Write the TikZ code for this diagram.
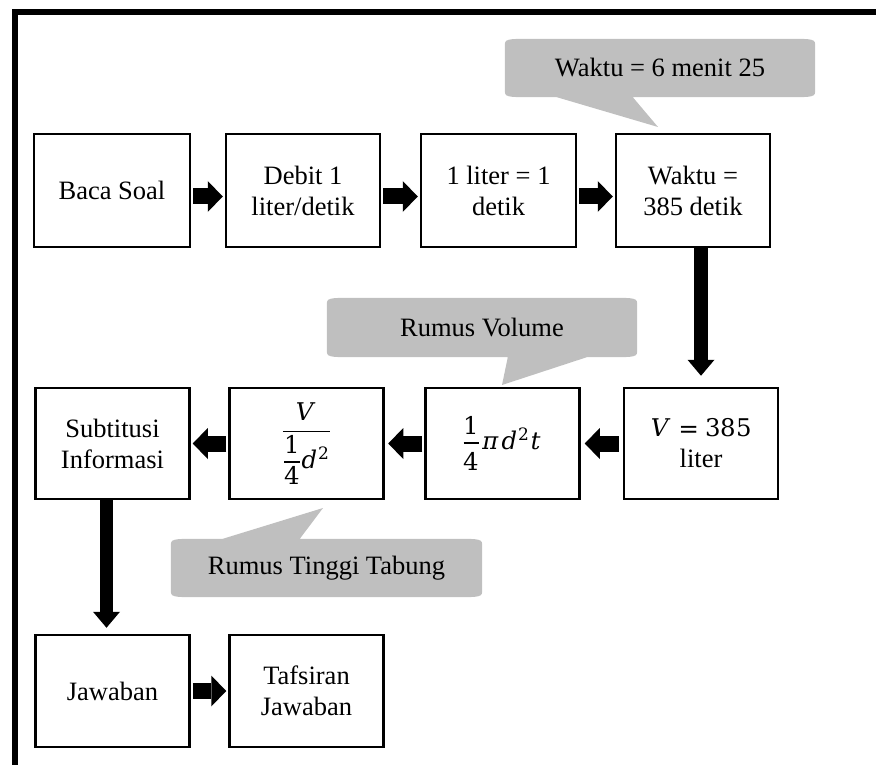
\documentclass[tikz,border=0pt]{standalone}
\usepackage{amsmath}
\usepackage{fontspec}
\usepackage{unicode-math}
\setmainfont{Liberation Serif}
\setmathfont{DejaVu Math TeX Gyre}[Scale=0.92]
\usetikzlibrary{arrows.meta,calc}

\definecolor{callgray}{RGB}{191,191,191}
\pgfdeclarelayer{background}
\pgfsetlayers{background,main}

% full-size fraction with extra room above and below the bar
\newcommand\roomyfrac[2]{\frac{\displaystyle #1\rule[-5pt]{0pt}{5pt}}%
  {\displaystyle\rule{0pt}{24pt}#2}}

\tikzset{
  stepbox/.style={draw, line width=2.5pt, inner sep=0pt,
    minimum width=154pt, minimum height=112pt, align=center,
    font=\fontsize{26.5}{31}\selectfont},
  calltext/.style={inner sep=0pt, minimum width=310pt, minimum height=58pt,
    font=\fontsize{26.5}{31}\selectfont},
  fatright/.style={line width=16pt, shorten <=2pt, shorten >=2pt,
    -{Triangle[length=15pt,width=31pt,line width=0pt]}},
  fatdown/.style={line width=13.5pt,
    -{Triangle[length=16pt,width=27pt,line width=0pt]}},
  frame/.style={line width=6pt, line join=miter},
}

% speech bubble behind node #1, tail on the bottom edge:
% base from #2 to #3 (offsets from the left side), tip at #4
\newcommand\bubblebelow[4]{%
  \fill[callgray] ($(#1.north west)+(30,0)$) -- ($(#1.north east)+(-30,0)$)
    .. controls (#1.north east) .. ($(#1.north east)+(0,8)$)
    -- ($(#1.south east)+(0,-8)$)
    .. controls (#1.south east) .. ($(#1.south east)+(-30,0)$)
    -- ($(#1.south west)+(#3,0)$) -- (#4) -- ($(#1.south west)+(#2,0)$)
    -- ($(#1.south west)+(30,0)$)
    .. controls (#1.south west) .. ($(#1.south west)+(0,-8)$)
    -- ($(#1.north west)+(0,8)$)
    .. controls (#1.north west) .. cycle;}
% the same bubble with its tail on the top edge
\newcommand\bubbleabove[4]{%
  \fill[callgray] ($(#1.north west)+(30,0)$)
    -- ($(#1.north west)+(#2,0)$) -- (#4) -- ($(#1.north west)+(#3,0)$)
    -- ($(#1.north east)+(-30,0)$)
    .. controls (#1.north east) .. ($(#1.north east)+(0,8)$)
    -- ($(#1.south east)+(0,-8)$)
    .. controls (#1.south east) .. ($(#1.south east)+(-30,0)$)
    -- ($(#1.south west)+(30,0)$)
    .. controls (#1.south west) .. ($(#1.south west)+(0,-8)$)
    -- ($(#1.north west)+(0,8)$)
    .. controls (#1.north west) .. cycle;}

\begin{document}
\begin{tikzpicture}[x=1pt,y=-1pt]
\useasboundingbox (0,0) rectangle (876,765);

% outer frame (left and top edges only)
\draw[frame] (15.3,768) -- (15.3,12.5) -- (880,12.5);

% first row
\node[stepbox, minimum width=156pt, minimum height=113pt] (baca)  at (112,190.5)   {Baca Soal};
\node[stepbox, minimum height=113pt] (debit) at (303,190.5)   {Debit 1\\liter/detik};
\node[stepbox, minimum width=155pt, minimum height=113pt] (liter) at (498.5,190.5) {1 liter = 1\\detik};
\node[stepbox, minimum height=113pt] (waktu) at (693,190.5)   {Waktu =\\385 detik};

% second row
\node[stepbox, minimum height=111pt] (subst) at (112.5,443.5) {Subtitusi\\Informasi};
\node[stepbox, minimum height=111pt] (rumt)  at (306.5,443.5)
  {$\displaystyle\frac{\displaystyle V\rule[-7pt]{0pt}{7pt}}{\displaystyle\frac{\displaystyle 1}{\displaystyle 4}d^{2}}$};
\node[stepbox, minimum height=111pt] (rumv)  at (502.5,443.5) {$\displaystyle\roomyfrac{1}{4}\pi d^{2}t$};
\node[stepbox, minimum height=111pt] (vol)   at (701,443.5)   {$V=385$\\liter};

% third row
\node[stepbox] (jawab)  at (112.5,691) {Jawaban};
\node[stepbox] (tafsir) at (306.5,691) {Tafsiran\\Jawaban};

% block arrows
\draw[fatright] ([yshift=-6pt]baca.east)  -- ([yshift=-6pt]debit.west);
\draw[fatright] ([yshift=-6pt]debit.east) -- ([yshift=-6pt]liter.west);
\draw[fatright] ([yshift=-6pt]liter.east) -- ([yshift=-6pt]waktu.west);
\draw[fatdown, shorten >=11pt] (waktu.south -| vol.north) -- (vol.north);
\draw[fatright, shorten <=4pt, shorten >=4pt] (vol.west) -- (rumv.east);
\draw[fatright, shorten >=3.5pt] (rumv.west) -- (rumt.east);
\draw[fatright] (rumt.west) -- (subst.east);
\draw[fatdown, shorten >=6pt] ([xshift=-6pt]subst.south) -- ([xshift=-6pt]jawab.north);
\draw[fatright] (jawab.east) -- (tafsir.west);

% speech bubbles
\node[calltext] (note1) at (660,68)    {Waktu = 6 menit 25};
\node[calltext, minimum height=59pt] (note2) at (482,327.5) {Rumus Volume};
\node[calltext, minimum width=311pt] (note3) at (326.5,568) {Rumus Tinggi Tabung};
\coordinate (tip1) at (658,127);
\coordinate (tip2) at (502,385);
\coordinate (tip3) at (323,508);
\begin{pgfonlayer}{background}
  \bubblebelow{note1}{52}{128}{tip1}
  \bubblebelow{note2}{181}{260}{tip2}
  \bubbleabove{note3}{52}{129}{tip3}
\end{pgfonlayer}
\end{tikzpicture}
\end{document}
